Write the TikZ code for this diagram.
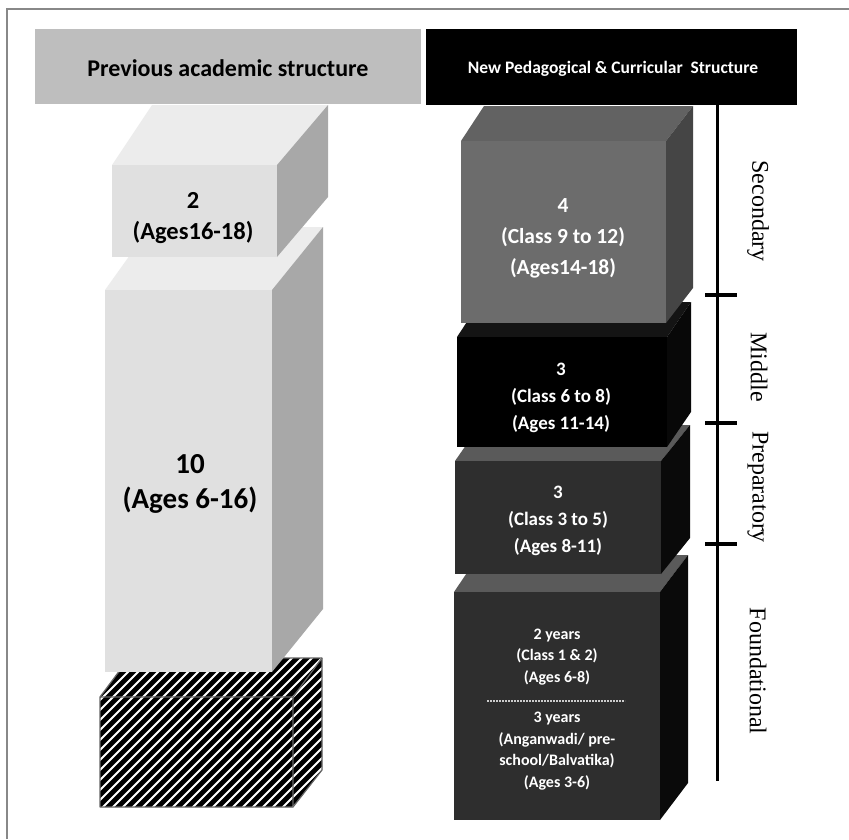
\documentclass[tikz,border=0pt]{standalone}
\usepackage{fontspec}
\setmainfont{Carlito}
\newfontfamily\lserif{Liberation Serif}
\definecolor{hdrgray}{HTML}{BEBEBE}
\definecolor{lightf}{HTML}{E0E0E0}
\definecolor{lightt}{HTML}{ECECEC}
\definecolor{lights}{HTML}{A8A8A8}
\definecolor{secf}{HTML}{6C6C6C}
\definecolor{sect}{HTML}{626262}
\definecolor{secs}{HTML}{454545}
\definecolor{midf}{HTML}{000000}
\definecolor{midt}{HTML}{141414}
\definecolor{mids}{HTML}{080808}
\definecolor{prepf}{HTML}{2E2E2E}
\definecolor{prept}{HTML}{5A5A5A}
\definecolor{preps}{HTML}{0A0A0A}
\definecolor{framec}{HTML}{888888}
% x1 y1 x2 y2 dxl dxr dy colourprefix
\newcommand\mycube[8]{%
  \fill[#8t] (#1,#2) -- (#1+#5,#2-#7) -- (#3+#6,#2-#7) -- (#3,#2) -- cycle;
  \fill[#8s] (#3,#2) -- (#3+#6,#2-#7) -- (#3+#6,#4-#7) -- (#3,#4) -- cycle;
  \fill[#8f] (#1,#2) rectangle (#3,#4);
}
\tikzset{
  lefttxt/.style={align=center, text=black},
  righttxt/.style={align=center, text=white},
  sidelabel/.style={rotate=-90, font=\lserif\fontsize{24}{26}\selectfont},
  tick/.style={line width=4.5pt},
}
\begin{document}
\begin{tikzpicture}[x=1pt,y=-1pt]
\useasboundingbox (0,0) rectangle (849,839);
\fill[white] (0,0) rectangle (849,839);
% frame
\draw[framec, line width=2pt] (7,839) -- (7,9) -- (849,9);
% headers
\fill[hdrgray] (35,29) rectangle (421,104);
\fill[black] (426,29) rectangle (797,105);
\node[font=\bfseries\fontsize{24}{26}\selectfont] (hdrL) at (228,68) {Previous academic structure};
\node[text=white, font=\bfseries\fontsize{17.5}{20}\selectfont] (hdrR) at (613,69) {New Pedagogical \& Curricular~~Structure};

% hatched box
\begin{scope}
  \clip (100,697) -- (129,658) -- (322,658) -- (322,770) -- (293,807) -- (100,807) -- cycle;
  \fill[black] (90,650) rectangle (330,815);
  \foreach \s in {-60,-50,...,280} {
    \draw[white, line width=1.8pt] (\s,830) -- ++(200,-200);
  }
\end{scope}
\draw[gray!80!black, line width=1.2pt, line join=round] (100,697) -- (129,658) -- (322,658) -- (322,770) -- (293,807) -- (100,807) -- cycle;
\draw[gray!80!black, line width=1.2pt] (100,697) -- (293,697) -- (322,658) (293,697) -- (293,807);

% light boxes
\mycube{105}{290}{272}{672}{45}{51}{63}{light}
\mycube{112}{165}{277}{257}{40}{51}{60}{light}
\node[lefttxt, font=\bfseries\fontsize{24.5}{31}\selectfont] (old2) at (193,218) {2\\(Ages16-18)};
\node[lefttxt, font=\bfseries\fontsize{29}{35}\selectfont] (old10) at (190,484) {10\\(Ages 6-16)};

% right boxes, bottom to top
\mycube{454}{592}{660}{820}{25}{28}{37}{prep}
\mycube{455}{461}{661}{574}{25}{29}{36}{prep}
\mycube{457}{337}{667}{447}{23}{24}{35}{mid}
\mycube{461}{141}{666}{323}{23}{27}{35}{sec}

\node[righttxt, font=\bfseries\fontsize{21.5}{31}\selectfont] (sec) at (563,238) {4\\(Class 9 to 12)\\(Ages14-18)};
\node[righttxt, font=\bfseries\fontsize{19}{27}\selectfont] (mid) at (561,398) {3\\(Class 6 to 8)\\(Ages 11-14)};
\node[righttxt, font=\bfseries\fontsize{19}{27}\selectfont] (prep) at (558,521) {3\\(Class 3 to 5)\\(Ages 8-11)};
\node[righttxt, font=\bfseries\fontsize{16}{21.5}\selectfont] (fndA) at (557,657) {2 years\\(Class 1 \& 2)\\(Ages 6-8)};
\node[righttxt, font=\bfseries\fontsize{16}{21.5}\selectfont] (fndB) at (557,751) {3 years\\(Anganwadi/ pre-\\school/Balvatika)\\(Ages 3-6)};
\coordinate (dashL) at (487,701);
\coordinate (dashR) at (625,701);
\draw[white!80!black, line width=1.2pt, dash pattern=on 2pt off 1pt] (dashL) -- (dashR);

% timeline
\coordinate (lineTop) at (717,105);
\coordinate (lineBot) at (717,781);
\draw[line width=3pt] (lineTop) -- (lineBot);
\draw[tick] (705,295) -- (737,295);
\draw[tick] (705,423) -- (737,423);
\draw[tick] (705,544) -- (737,544);
\node[sidelabel] (lSec) at (758,211) {Secondary};
\node[sidelabel] (lMid) at (759,367) {Middle};
\node[sidelabel] (lPrep) at (758,487) {Preparatory};
\node[sidelabel] (lFnd) at (758,671) {Foundational};
\end{tikzpicture}
\end{document}
